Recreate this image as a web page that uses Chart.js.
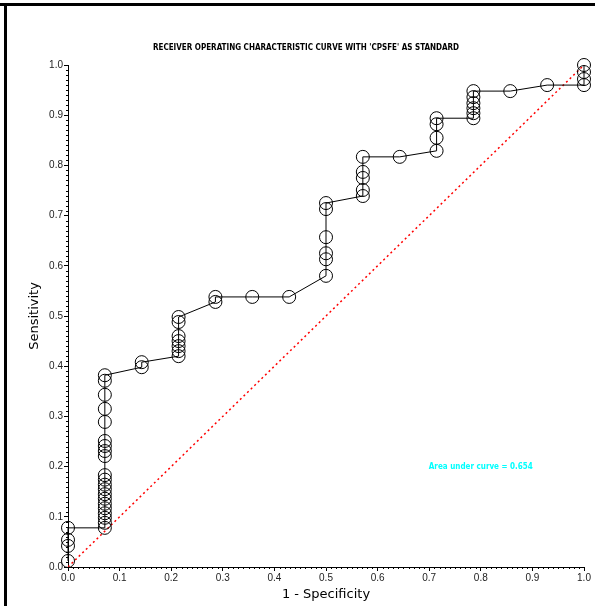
<!DOCTYPE html>
<html>
<head>
<meta charset="utf-8">
<script src="https://cdn.jsdelivr.net/npm/chart.js@4.4.1/dist/chart.umd.min.js"></script>
<style>
  html, body { margin: 0; padding: 0; background: #fff; }
  #roc { display: block; }
</style>
</head>
<body>
<canvas id="roc" width="595" height="606"></canvas>
<script>
// ROC points: 1 - specificity and sensitivity, in curve order
const oneMinusSpec = [
  0, 0, 0, 0,
  0.0714, 0.0714, 0.0714, 0.0714, 0.0714, 0.0714, 0.0714, 0.0714, 0.0714, 0.0714, 0.0714,
  0.0714, 0.0714, 0.0714, 0.0714, 0.0714, 0.0714, 0.0714, 0.0714, 0.0714, 0.0714,
  0.1429, 0.1429,
  0.2143, 0.2143, 0.2143, 0.2143, 0.2143, 0.2143, 0.2143,
  0.2857, 0.2857,
  0.3571,
  0.4286,
  0.5, 0.5, 0.5, 0.5, 0.5, 0.5,
  0.5714, 0.5714, 0.5714, 0.5714, 0.5714,
  0.6429,
  0.7143, 0.7143, 0.7143, 0.7143,
  0.7857, 0.7857, 0.7857, 0.7857, 0.7857, 0.7857,
  0.8571,
  0.9286,
  1, 1, 1, 1
];
const sensitivity = [
  0.012, 0.042, 0.054, 0.078,
  0.078, 0.088, 0.098, 0.107, 0.117, 0.126, 0.136, 0.145, 0.155, 0.164, 0.174,
  0.183, 0.221, 0.231, 0.241, 0.251, 0.289, 0.315, 0.343, 0.371, 0.382,
  0.398, 0.408,
  0.420, 0.430, 0.440, 0.450, 0.460, 0.488, 0.498,
  0.528, 0.538,
  0.538,
  0.538,
  0.580, 0.613, 0.625, 0.657, 0.713, 0.725,
  0.739, 0.751, 0.775, 0.787, 0.817,
  0.817,
  0.829, 0.855, 0.882, 0.894,
  0.894, 0.904, 0.914, 0.924, 0.936, 0.948,
  0.948,
  0.960,
  0.960, 0.972, 0.986, 1.0
];
const diagX = [0, 1];
const diagY = [0, 1];

const titleText = "RECEIVER OPERATING CHARACTERISTIC CURVE WITH 'CPSFE' AS STANDARD";
const xTitle = '1 - Specificity';
const yTitle = 'Sensitivity';
const aucText = 'Area under curve = 0.654';
const aucPos = [0.80, 0.20];

const curvePoints = oneMinusSpec.map((x, i) => ({ x: x, y: sensitivity[i] }));
const diagPoints = diagX.map((x, i) => ({ x: x, y: diagY[i] }));

const tickFont = { family: "'Liberation Sans', Arial, sans-serif", size: 10 };
const axisTitleFont = { family: "'DejaVu Sans', sans-serif", size: 13 };

// frame, title, minor ticks and the AUC note
const extras = {
  id: 'extras',
  afterDraw(chart) {
    const ctx = chart.ctx;
    const xs = chart.scales.x;
    const ys = chart.scales.y;
    const area = chart.chartArea;
    ctx.save();

    ctx.fillStyle = '#000';
    ctx.fillRect(0, 3, 595, 3);
    ctx.fillRect(4, 4, 3, 602);

    // minor ticks every 0.01
    ctx.strokeStyle = '#000';
    ctx.lineWidth = 1;
    ctx.beginPath();
    for (let i = 1; i < 100; i++) {
      if (i % 10 === 0) continue;
      const px = Math.round(xs.getPixelForValue(i / 100)) + 0.5;
      ctx.moveTo(px, area.bottom);
      ctx.lineTo(px, area.bottom + 2);
      const py = Math.round(ys.getPixelForValue(i / 100)) + 0.5;
      ctx.moveTo(area.left, py);
      ctx.lineTo(area.left - 2, py);
    }
    ctx.stroke();

    ctx.fillStyle = '#000';
    ctx.font = "bold 8px 'DejaVu Sans Condensed', 'Liberation Sans Narrow', sans-serif";
    ctx.textAlign = 'center';
    ctx.textBaseline = 'middle';
    ctx.fillText(titleText, 306, 48);

    ctx.fillStyle = '#00ffff';
    ctx.fillText(aucText, xs.getPixelForValue(aucPos[0]), ys.getPixelForValue(aucPos[1]));
    ctx.restore();
  }
};

new Chart(document.getElementById('roc'), {
  type: 'scatter',
  data: {
    datasets: [
      {
        data: curvePoints,
        showLine: true,
        borderColor: '#000',
        borderWidth: 1,
        pointStyle: 'circle',
        pointRadius: 6.5,
        pointBorderWidth: 1,
        pointBorderColor: '#000',
        pointBackgroundColor: 'rgba(0,0,0,0)',
        clip: false
      },
      {
        data: diagPoints,
        showLine: true,
        borderColor: '#ff0000',
        borderWidth: 1.5,
        borderDash: [2, 3],
        pointRadius: 0
      }
    ]
  },
  options: {
    responsive: false,
    animation: false,
    layout: { padding: { top: 65, right: 11, bottom: 0, left: 0 } },
    plugins: {
      legend: { display: false },
      tooltip: { enabled: false },
      title: { display: false }
    },
    scales: {
      x: {
        type: 'linear',
        min: 0,
        max: 1,
        afterFit(scale) { scale.height = 39; },
        border: { display: true, color: '#000', width: 1 },
        grid: { drawOnChartArea: false, drawTicks: true, tickLength: 4, color: '#000' },
        ticks: {
          stepSize: 0.1,
          padding: 1,
          color: '#222',
          font: tickFont,
          maxRotation: 0,
          callback: v => v.toFixed(1)
        },
        title: { display: true, text: xTitle, color: '#000', font: axisTitleFont, padding: { top: 0, bottom: 4 } }
      },
      y: {
        type: 'linear',
        min: 0,
        max: 1,
        afterFit(scale) { scale.width = 68; },
        border: { display: true, color: '#000', width: 1 },
        grid: { drawOnChartArea: false, drawTicks: true, tickLength: 4, color: '#000' },
        ticks: {
          stepSize: 0.1,
          padding: 1,
          color: '#222',
          font: tickFont,
          callback: v => v.toFixed(1)
        },
        title: { display: true, text: yTitle, color: '#000', font: axisTitleFont, padding: { top: 27, bottom: 0 } }
      }
    }
  },
  plugins: [extras]
});
</script>
</body>
</html>
